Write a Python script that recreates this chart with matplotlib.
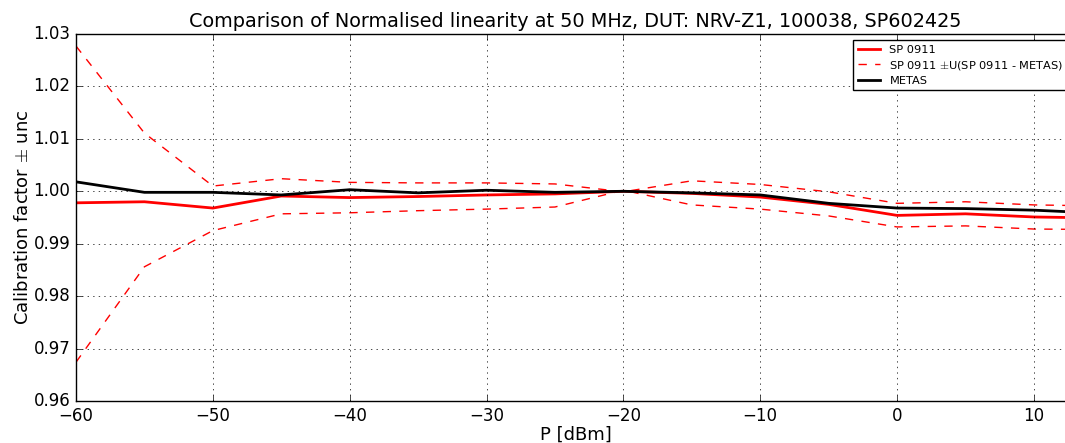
import matplotlib
matplotlib.use("Agg")
import matplotlib.pyplot as plt
from matplotlib.ticker import FormatStrFormatter

plt.style.use('classic')

power_dbm = [-60, -55, -50, -45, -40, -35, -30, -25, -20, -15, -10, -5, 0, 5, 10, 15]
sp0911 = [0.9978, 0.9980, 0.9968, 0.9991, 0.9988, 0.9990, 0.9993, 0.9995, 1.0000, 0.9996,
          0.9989, 0.9975, 0.9954, 0.9957, 0.9951, 0.9949]
sp_upper = [1.0277, 1.0111, 1.0010, 1.0024, 1.0017, 1.0016, 1.0016, 1.0014, 0.9999, 1.0020,
            1.0013, 0.9999, 0.9977, 0.9980, 0.9974, 0.9972]
sp_lower = [0.9674, 0.9856, 0.9925, 0.9957, 0.9959, 0.9963, 0.9966, 0.9970, 1.0002, 0.9974,
            0.9966, 0.9953, 0.9932, 0.9934, 0.9928, 0.9927]
metas = [1.0018, 0.9998, 0.9998, 0.9993, 1.0003, 0.9997, 1.0002, 0.9998, 1.0000, 0.9997,
         0.9993, 0.9977, 0.9968, 0.9967, 0.9964, 0.9958]

fig = plt.figure(figsize=(10.65, 4.43), dpi=100, facecolor='white')
ax = fig.add_axes([76/1065, 1-401/443, (1075-76)/1065, (401-34)/443])

ax.plot(power_dbm, sp0911, color='red', lw=2, label='SP 0911')
ax.plot(power_dbm, sp_upper, color='red', lw=1, ls='--', label=r'SP 0911 $\pm$U(SP 0911 - METAS)')
ax.plot(power_dbm, sp_lower, color='red', lw=1, ls='--')
ax.plot(power_dbm, metas, color='black', lw=2, label='METAS')

ax.set_xlim(-60, 13)
ax.set_ylim(0.96, 1.03)
ax.set_xticks([-60, -50, -40, -30, -20, -10, 0, 10])
ax.set_yticks([0.96, 0.97, 0.98, 0.99, 1.00, 1.01, 1.02, 1.03])
ax.yaxis.set_major_formatter(FormatStrFormatter('%.2f'))
ax.grid(True)
ax.tick_params(labelsize=12, pad=4)
ax.set_xlabel('P [dBm]', fontsize=13, labelpad=1)
ax.set_ylabel(r'Calibration factor $\pm$ unc', fontsize=13, labelpad=1)
ax.set_title('Comparison of Normalised linearity at 50 MHz, DUT: NRV-Z1, 100038, SP602425', fontsize=13.9)

ax.legend(loc='upper left', bbox_to_anchor=(853/1065, 1-40/443), bbox_transform=fig.transFigure,
          borderaxespad=0, fontsize=8.2, numpoints=1, labelspacing=0.35, borderpad=0.4)

fig.savefig('out.png', dpi=100, facecolor='white')
